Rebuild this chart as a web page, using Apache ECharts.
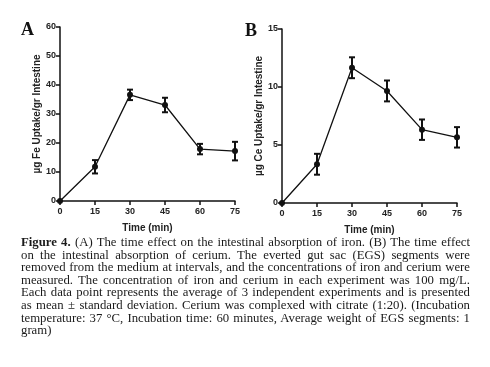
<!DOCTYPE html>
<html>
<head>
<meta charset="utf-8">
<script src="https://cdn.jsdelivr.net/npm/echarts@6/dist/echarts.min.js"></script>
<style>
html,body{margin:0;padding:0;background:#fff;}
#chart{position:absolute;left:0;top:0;width:490px;height:367px;}
#cap{position:absolute;left:21px;top:236px;width:449px;font-family:"Liberation Serif","Times New Roman",serif;font-size:12.75px;line-height:12.6px;text-align:justify;color:#1a1a1a;}
</style>
</head>
<body>
<div id="chart"></div>
<div id="cap"><b>Figure 4.</b> (A) The time effect on the intestinal absorption of iron. (B) The time effect on the intestinal absorption of cerium. The everted gut sac (EGS) segments were removed from the medium at intervals, and the concentrations of iron and cerium were measured. The concentration of iron and cerium in each experiment was 100 mg/L. Each data point represents the average of 3 independent experiments and is presented as mean ± standard deviation. Cerium was complexed with citrate (1:20). (Incubation temperature: 37 °C, Incubation time: 60 minutes, Average weight of EGS segments: 1 gram)</div>
<script>
const times = [0, 15, 30, 45, 60, 75];
const feMean = [0, 11.8, 36.6, 33.1, 17.9, 17.2];
const feSD = [0, 2.3, 1.8, 2.5, 1.8, 3.2];
const ceMean = [0, 3.34, 11.66, 9.66, 6.32, 5.66];
const ceSD = [0, 0.9, 0.9, 0.9, 0.88, 0.88];
const xTicks = [0, 15, 30, 45, 60, 75];

const chart = echarts.init(document.getElementById('chart'));
const axisFont = {fontFamily: 'Liberation Sans, Arial', fontWeight: 'bold', fontSize: 9, color: '#222'};
const lineStyle = {color: '#111', width: 1.5};

function xAxis(gi) {
  return {
    gridIndex: gi, type: 'value', min: 0, max: 75, interval: 15,
    axisLine: {show: true, lineStyle: lineStyle},
    axisTick: {show: true, length: 4, lineStyle: lineStyle},
    axisLabel: Object.assign({margin: 6}, axisFont),
    splitLine: {show: false},
    name: 'Time (min)', nameLocation: 'middle', nameGap: 22,
    nameTextStyle: {fontFamily: 'Liberation Sans, Arial', fontWeight: 'bold', fontSize: 10, color: '#222'}
  };
}
function yAxis(gi, max, interval, name) {
  return {
    gridIndex: gi, type: 'value', min: 0, max: max, interval: interval,
    axisLine: {show: true, lineStyle: lineStyle},
    axisTick: {show: true, length: 4, lineStyle: lineStyle},
    axisLabel: Object.assign({margin: 4}, axisFont),
    splitLine: {show: false},
    name: name, nameLocation: 'middle', nameGap: 14, nameRotate: 90,
    nameTextStyle: {fontFamily: 'Liberation Sans, Arial', fontWeight: 'bold', fontSize: 10, color: '#222'}
  };
}
function errSeries(gi, mean, sd) {
  return {
    type: 'custom', xAxisIndex: gi, yAxisIndex: gi, z: 3,
    data: times.map((t, i) => [t, mean[i] - sd[i], mean[i] + sd[i]]),
    renderItem: function (params, api) {
      const lo = api.coord([api.value(0), api.value(1)]);
      const hi = api.coord([api.value(0), api.value(2)]);
      const w = 3;
      const st = {stroke: '#111', lineWidth: 2};
      return {type: 'group', children: [
        {type: 'line', shape: {x1: lo[0], y1: lo[1], x2: hi[0], y2: hi[1]}, style: st},
        {type: 'line', shape: {x1: lo[0] - w, y1: lo[1], x2: lo[0] + w, y2: lo[1]}, style: st},
        {type: 'line', shape: {x1: hi[0] - w, y1: hi[1], x2: hi[0] + w, y2: hi[1]}, style: st}
      ]};
    }
  };
}
function lineSeries(gi, mean) {
  return {
    type: 'line', xAxisIndex: gi, yAxisIndex: gi, z: 4,
    data: times.map((t, i) => [t, mean[i]]),
    symbol: 'circle', symbolSize: 6,
    itemStyle: {color: '#111'},
    lineStyle: {color: '#111', width: 1.3},
    animation: false
  };
}

chart.setOption({
  animation: false,
  grid: [
    {left: 60, top: 27, width: 175, height: 174},
    {left: 282, top: 29, width: 175, height: 174}
  ],
  xAxis: [xAxis(0), xAxis(1)],
  yAxis: [yAxis(0, 60, 10, 'µg Fe Uptake/gr Intestine'), yAxis(1, 15, 5, 'µg Ce Uptake/gr Intestine')],
  series: [
    errSeries(0, feMean, feSD), lineSeries(0, feMean),
    errSeries(1, ceMean, ceSD), lineSeries(1, ceMean)
  ],
  graphic: [
    {type: 'text', left: 21, top: 21, style: {text: 'A', font: 'bold 18px "Liberation Serif", serif', fill: '#111'}},
    {type: 'text', left: 245, top: 22, style: {text: 'B', font: 'bold 18px "Liberation Serif", serif', fill: '#111'}}
  ]
});
</script>
</body>
</html>
